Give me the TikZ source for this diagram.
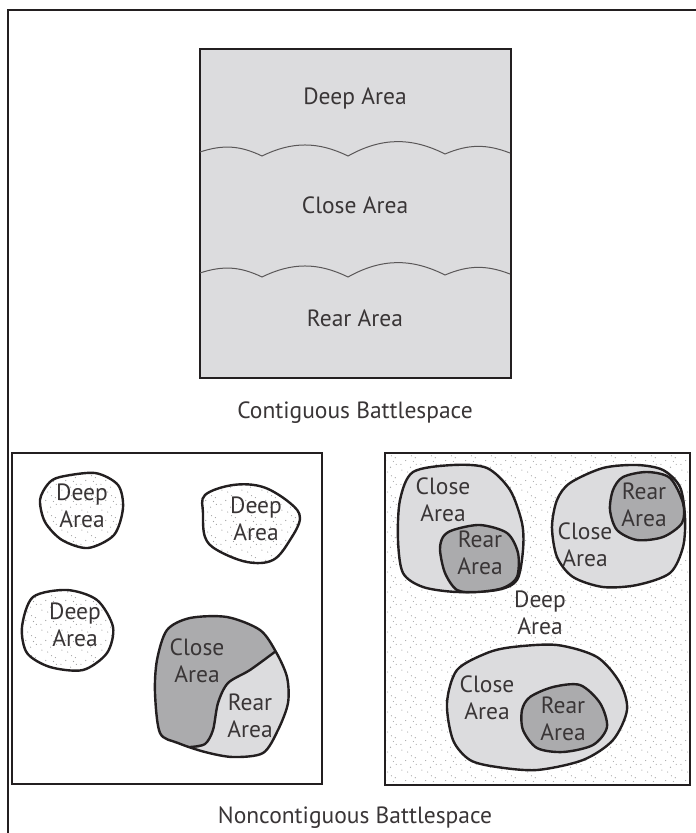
\documentclass[tikz,border=0pt]{standalone}
\usepackage{fontspec}
\setmainfont{PT Sans}
\usetikzlibrary{patterns}

\definecolor{lightarea}{HTML}{DCDCDE}
\definecolor{darkarea}{HTML}{ABABAD}
\definecolor{inkline}{HTML}{231F20}

% sparse stipple for the deep areas
\pgfdeclarepatternformonly{stipple}{\pgfpointorigin}{\pgfpoint{20pt}{20pt}}{\pgfpoint{20pt}{20pt}}{%
  \pgfpathcircle{\pgfpoint{2pt}{3pt}}{0.6pt}
  \pgfpathcircle{\pgfpoint{11pt}{6pt}}{0.6pt}
  \pgfpathcircle{\pgfpoint{6pt}{13pt}}{0.6pt}
  \pgfpathcircle{\pgfpoint{16pt}{16pt}}{0.6pt}
  \pgfpathcircle{\pgfpoint{17pt}{9pt}}{0.6pt}
  \pgfpathcircle{\pgfpoint{8pt}{1pt}}{0.6pt}
  \pgfpathcircle{\pgfpoint{1pt}{9pt}}{0.6pt}
  \pgfpathcircle{\pgfpoint{12pt}{18pt}}{0.6pt}
  \pgfpathcircle{\pgfpoint{14pt}{12pt}}{0.6pt}
  \pgfusepath{fill}}

\tikzset{
  lbl/.style={font=\fontsize{23.5}{27}\selectfont, text=inkline!90, align=center, inner sep=0pt},
  frame/.style={draw=inkline, line width=2pt},
  blob/.style={draw=inkline, line width=2.4pt, line join=round},
  wave/.style={draw=inkline!75, line width=1pt},
  stippled/.style={pattern=stipple, pattern color=gray!75},
}

\begin{document}
\begin{tikzpicture}[x=1pt, y=-1pt]
    \fill[white] (0,0) rectangle (696,833);
    \useasboundingbox (0,0) rectangle (696,833);
    \draw[inkline, line width=1.3pt] (696,10) -- (8,10) -- (8,833);

    % contiguous
    \draw[frame, fill=lightarea] (200,49) rectangle (511,378);
    \foreach \dy in {0,121}
        \draw[wave] (200,152+\dy) to[bend left=22] (262,156+\dy) to[bend left=26] (348,156+\dy)
            to[bend left=28] (445,154+\dy) to[bend left=22] (510,153+\dy);

    \node[lbl] (deep)  at (355,98)  {Deep Area};
    \node[lbl] (close) at (355,205) {Close Area};
    \node[lbl] (rear)  at (355,318) {Rear Area};
    \node[lbl] (contig) at (355,413) {Contiguous Battlespace};

    % noncontiguous, left
    \draw[frame] (12,453) rectangle (322,784);
    \draw[blob, stippled] plot[smooth cycle] coordinates {(60,477) (95,473) (118,485) (123,508) (114,535) (88,548) (62,540) (45,522) (40,500) (48,484)};
    \draw[blob, stippled] plot[smooth cycle, tension=0.6] coordinates {(205,495) (233,485) (263,487) (290,503) (300,518) (290,540) (273,560) (247,562) (217,550) (205,537) (203,513)};
    \draw[blob, stippled] plot[smooth cycle] coordinates {(67,590) (97,600) (113,627) (107,653) (83,670) (50,667) (27,653) (22,627) (33,597)};

    \fill[lightarea] plot[smooth cycle] coordinates {(190,618) (227,617) (260,630) (276,652) (287,677) (288,703) (278,730) (263,753) (233,757) (205,752) (178,743) (160,733) (155,693) (157,660) (167,630)};
    \begin{scope}
        \clip plot[smooth cycle] coordinates {(190,618) (227,617) (260,630) (276,652) (287,677) (288,703) (278,730) (263,753) (233,757) (205,752) (178,743) (160,733) (155,693) (157,660) (167,630)};
        \fill[darkarea] plot[smooth] coordinates {(278,650) (250,670) (228,683) (218,703) (213,730) (206,744) (192,750)} -- (140,770) -- (140,600) -- (300,600) -- (300,640) -- cycle;
    \end{scope}
    \draw[blob] plot[smooth cycle] coordinates {(190,618) (227,617) (260,630) (276,652) (287,677) (288,703) (278,730) (263,753) (233,757) (205,752) (178,743) (160,733) (155,693) (157,660) (167,630)};
    \draw[blob] plot[smooth] coordinates {(276,651) (250,670) (228,683) (218,703) (213,730) (205,744) (190,747)};

    \node[lbl] (deepL1) at (82,506)  {Deep\\Area};
    \node[lbl] (deepL2) at (256,519) {Deep\\Area};
    \node[lbl] (deepL3) at (75,625)  {Deep\\Area};
    \node[lbl] (closeL) at (197,661) {Close\\Area};
    \node[lbl] (rearL)  at (250,716) {Rear\\Area};

    % noncontiguous, right
    \draw[frame, stippled] (385,453) rectangle (690,785);

    \draw[blob, fill=lightarea] plot[smooth cycle] coordinates {(413,472) (453,465) (487,468) (510,490) (522,523) (523,550) (517,580) (497,590) (457,592) (423,587) (403,573) (398,540) (400,500)};
    \draw[blob, fill=darkarea] plot[smooth cycle] coordinates {(453,530) (480,525) (507,533) (518,553) (517,577) (503,588) (477,592) (457,590) (445,573) (440,550) (443,537)};

    \draw[blob, fill=lightarea] plot[smooth cycle] coordinates {(570,483) (603,468) (637,465) (663,470) (680,487) (685,517) (683,547) (670,573) (637,585) (603,587) (573,577) (557,557) (552,527) (557,500)};
    \draw[blob, fill=darkarea] plot[smooth cycle] coordinates {(623,477) (647,472) (670,478) (683,503) (682,523) (663,537) (637,540) (617,530) (610,510) (613,490)};

    \draw[blob, fill=lightarea] plot[smooth cycle] coordinates {(457,670) (487,653) (513,647) (557,645) (597,657) (620,683) (627,710) (613,740) (583,760) (537,770) (497,767) (470,760) (453,740) (447,703)};
    \draw[blob, fill=darkarea] plot[smooth cycle] coordinates {(530,697) (553,687) (580,685) (600,703) (607,727) (593,745) (563,752) (537,748) (523,730) (522,710)};

    \node[lbl] (closeR1) at (443,500) {Close\\Area};
    \node[lbl] (rearR1)  at (480,553) {Rear\\Area};
    \node[lbl] (rearR2)  at (644,505) {Rear\\Area};
    \node[lbl] (closeR2) at (585,545) {Close\\Area};
    \node[lbl] (deepR)   at (540,613) {Deep\\Area};
    \node[lbl] (closeR3) at (487,698) {Close\\Area};
    \node[lbl] (rearR3)  at (563,719) {Rear\\Area};

    \node[lbl] (noncontig) at (355,818) {Noncontiguous Battlespace};
\end{tikzpicture}
\end{document}
